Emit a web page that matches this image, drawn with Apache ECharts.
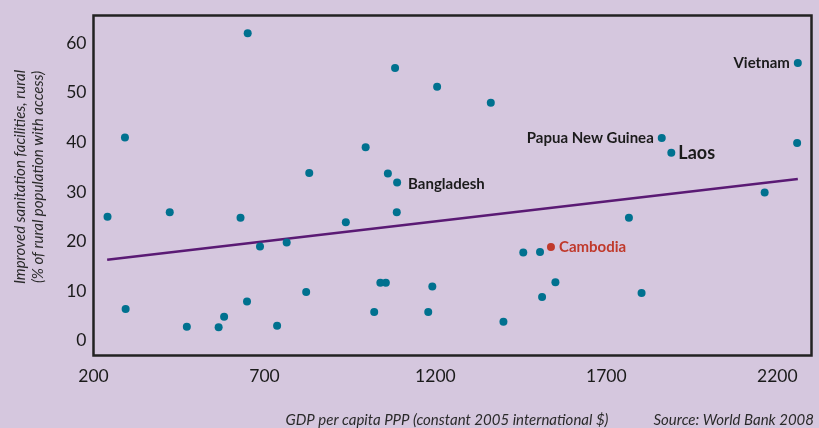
<!DOCTYPE html>
<html>
<head>
<meta charset="utf-8">
<script src="https://cdn.jsdelivr.net/npm/echarts@6/dist/echarts.min.js"></script>
<style>
html,body{margin:0;padding:0;background:#D5C7DE;}
#c{width:819px;height:428px;}
</style>
</head>
<body>
<div id="c"></div>
<script>
// GDP per capita PPP (constant 2005 international $)
const gdp = [241, 292, 294, 423, 473, 566, 582, 630, 649, 651, 687, 737, 765, 822, 831, 938, 996, 1021, 1039, 1055, 1061, 1082, 1087, 1088, 1179, 1191, 1205, 1362, 1399, 1457, 1506, 1512, 1538, 1551, 1766, 1803, 1862, 1890, 2163, 2258, 2260];
// Improved sanitation facilities, rural (% of rural population with access)
const sanitation = [25, 41, 6.4, 25.9, 2.8, 2.7, 4.8, 24.8, 7.9, 62, 19, 3, 19.8, 9.8, 33.8, 23.9, 39, 5.8, 11.7, 11.7, 33.7, 55, 25.9, 31.9, 5.8, 10.9, 51.2, 48, 3.8, 17.8, 17.9, 8.8, 18.9, 11.8, 24.8, 9.6, 40.9, 37.9, 29.9, 39.9, 56];
const countries = ['', '', '', '', '', '', '', '', '', '', '', '', '', '', '', '', '', '', '', '', '', '', '', 'Bangladesh', '', '', '', '', '', '', '', '', 'Cambodia', '', '', '', 'Papua New Guinea', 'Laos', '', '', 'Vietnam'];
const trendX = [240, 2260];
const trendY = [16.3, 32.6];
const xTicks = [200, 700, 1200, 1700, 2200];
const yTicks = [0, 10, 20, 30, 40, 50, 60];

const labelStyle = {
  'Bangladesh': {position: 'right', distance: 7, fontSize: 15, color: '#1b1b1b', offset: [0, 2]},
  'Cambodia': {position: 'right', distance: 4, fontSize: 15, color: '#C0392B'},
  'Papua New Guinea': {position: 'left', distance: 4, fontSize: 15, color: '#1b1b1b'},
  'Laos': {position: 'right', distance: 3, fontSize: 18, color: '#1b1b1b'},
  'Vietnam': {position: 'left', distance: 4, fontSize: 15, color: '#1b1b1b'}
};
const FONT = 'Lato';
const dotColor = '#00718F';
const hiColor = '#C0392B';

const points = gdp.map((g, i) => {
  const name = countries[i];
  const item = {value: [g, sanitation[i]], name: name};
  if (name) {
    const s = labelStyle[name];
    item.label = {show: true, formatter: name, position: s.position, distance: s.distance,
      fontSize: s.fontSize, fontWeight: 'bold', color: s.color, fontFamily: FONT, offset: s.offset || [0, 0]};
    if (name === 'Cambodia') item.itemStyle = {color: hiColor};
  }
  return item;
});

const chart = echarts.init(document.getElementById('c'), null, {renderer: 'canvas'});
chart.setOption({
  backgroundColor: '#D5C7DE',
  animation: false,
  grid: {left: 93.5, top: 15.5, right: 7.5, bottom: 72.5, show: true, borderColor: '#222222', borderWidth: 2.5, backgroundColor: 'transparent'},
  xAxis: {
    type: 'value', min: 200, max: 2300,
    axisLine: {show: false}, axisTick: {show: false}, splitLine: {show: false},
    axisLabel: {customValues: xTicks, formatter: v => String(v), margin: 12, fontSize: 17.5, color: '#1b1b1b', fontFamily: FONT}
  },
  yAxis: {
    type: 'value', min: -3, max: 65.6,
    axisLine: {show: false}, axisTick: {show: false}, splitLine: {show: false},
    axisLabel: {customValues: yTicks, formatter: v => String(v), margin: 7, fontSize: 17.5, color: '#1b1b1b', fontFamily: FONT}
  },
  series: [
    {
      type: 'line', data: trendX.map((x, i) => [x, trendY[i]]), symbol: 'none',
      lineStyle: {color: '#5A1A74', width: 2.5}, silent: true, z: 1
    },
    {
      type: 'scatter', data: points, symbolSize: 8,
      itemStyle: {color: dotColor, opacity: 1}, z: 2
    }
  ],
  graphic: [
    {type: 'text', x: 29, y: 177, rotation: Math.PI / 2,
      style: {text: 'Improved sanitation facilities, rural\n(% of rural population with access)', align: 'center', verticalAlign: 'middle',
        font: 'italic 15px Lato', fill: '#2a2a2a', lineHeight: 18}},
    {type: 'text', x: 447, y: 420,
      style: {text: 'GDP per capita PPP (constant 2005 international $)', align: 'center', verticalAlign: 'middle',
        font: 'italic 15px Lato', fill: '#2a2a2a'}},
    {type: 'text', x: 814, y: 420,
      style: {text: 'Source: World Bank 2008', align: 'right', verticalAlign: 'middle',
        font: 'italic 15px Lato', fill: '#2a2a2a'}}
  ]
});
</script>
</body>
</html>
